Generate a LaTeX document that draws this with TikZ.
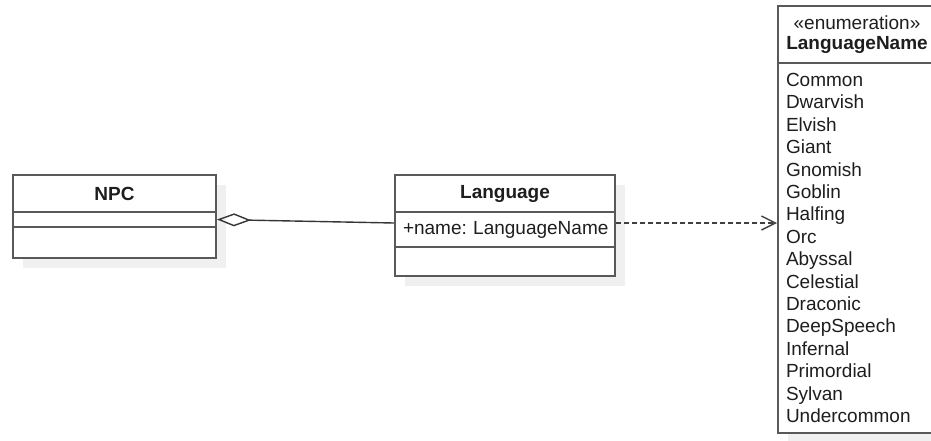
\documentclass[tikz,border=0pt]{standalone}
\usepackage{fontspec}
\setmainfont{Liberation Sans}
\usetikzlibrary{arrows.meta,shadows}
\definecolor{umlline}{HTML}{595959}
\definecolor{umltext}{HTML}{1E1E1E}
\definecolor{umlshade}{HTML}{F0F0F0}
\tikzset{
    part/.style={draw=umlline, line width=1pt, fill=white, inner sep=0pt, text=umltext,
        font=\fontsize{9.5}{11.2}\selectfont,
        drop shadow={shadow xshift=5pt, shadow yshift=-5pt, fill=umlshade, opacity=1}},
    listpart/.style={part, align=left, inner xsep=4pt},
    aggr/.style={draw=umltext!90, line width=0.7pt, {Diamond[open, length=17pt, width=6.5pt]}-},
    depend/.style={draw=umltext!85, line width=0.7pt, dash pattern=on 2.5pt off 1.5pt,
        -{Straight Barb[length=7pt, width=7pt]}}
}
\begin{document}
\begin{tikzpicture}[x=0.5pt, y=-0.5pt]
            \useasboundingbox (0,0) rectangle (931,440);
            \clip (0,0) rectangle (931,440);
            \node[part, minimum width=101.5pt, minimum height=18.5pt] (npchead) at (114.5,193.5) {\textbf{NPC}};
            \node[part, minimum width=101.5pt, minimum height=7.5pt] (npcattr) at (114.5,219.5) {};
            \node[part, minimum width=101.5pt, minimum height=15.5pt] (npcops) at (114.5,242.5) {};
            \node[part, minimum width=110pt, minimum height=18.5pt] (langhead) at (505,193.5) {\textbf{Language}};
            \node[listpart, text width=102pt, minimum height=17.5pt] (langattr) at (505,229.5) {\mbox{+name:\ LanguageName}};
            \node[part, minimum width=110pt, minimum height=14.5pt] (langops) at (505,261.5) {};
            \node[part, align=center, text width=79pt, minimum height=28.5pt,
                font=\fontsize{9.5}{10}\selectfont] (enumhead) at (857,34.5) {«enumeration»\\\textbf{LanguageName}};
            \node[listpart, text width=71pt, minimum height=185pt] (enumlist) at (857,248) {Common\\Dwarvish\\Elvish\\Giant\\Gnomish\\Goblin\\Halfing\\Orc\\Abyssal\\Celestial\\Draconic\\DeepSpeech\\Infernal\\Primordial\\Sylvan\\Undercommon};
            \draw[aggr] (npcattr.east) -- ([yshift=-5pt]langhead.south west);
            \coordinate (depstart) at ([yshift=-5pt]langhead.south east);
            \draw[depend] (depstart) -- (depstart -| enumlist.west);
\end{tikzpicture}
\end{document}
